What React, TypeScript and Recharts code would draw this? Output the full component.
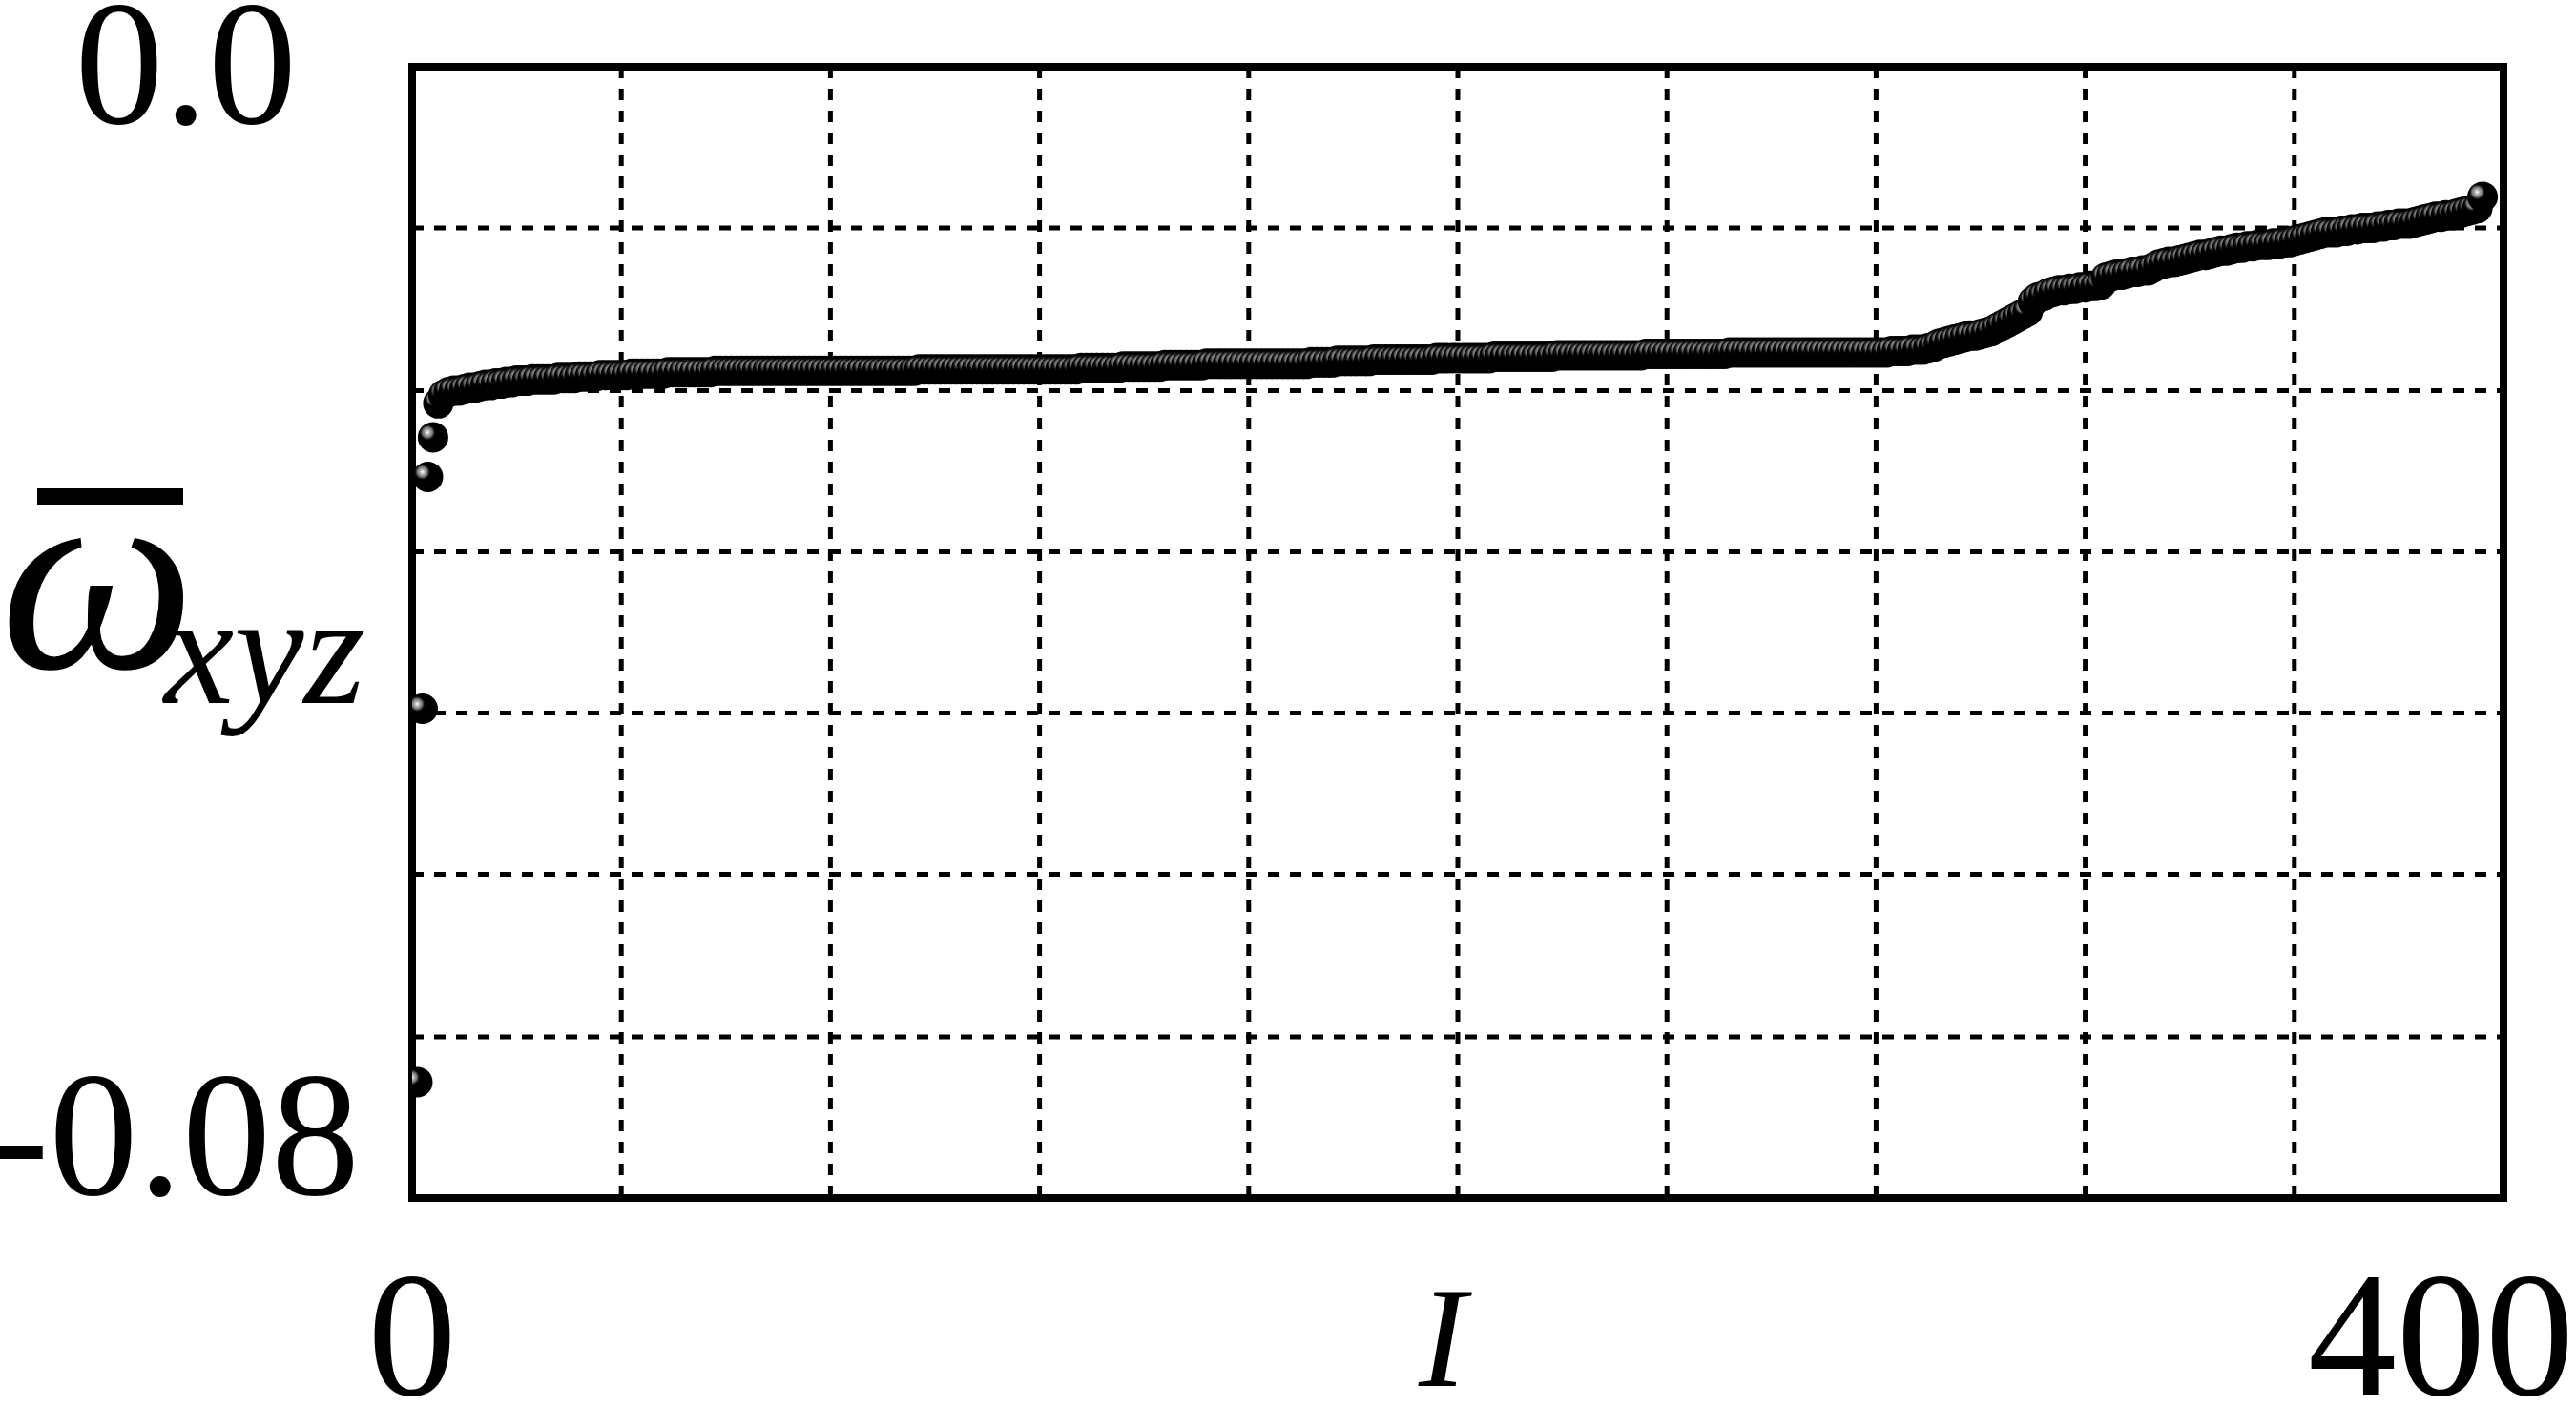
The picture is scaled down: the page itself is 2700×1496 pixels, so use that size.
import React from "react";
import {
  ScatterChart,
  Scatter,
  XAxis,
  YAxis,
  CartesianGrid,
  ReferenceArea,
} from "recharts";

// sorted values, index starts at 1
const FIRST_INDEX = 1;
const OMEGA = [
  -0.0718, -0.0454, -0.029, -0.0262, -0.0238, -0.0232, -0.023, -0.0229, -0.0229, -0.0228,
  -0.0227, -0.0227, -0.0226, -0.0225, -0.0225, -0.0224, -0.0224, -0.0223, -0.0223, -0.0222,
  -0.0222, -0.0222, -0.0221, -0.0221, -0.0221, -0.0221, -0.0221, -0.022, -0.022, -0.022,
  -0.022, -0.0219, -0.0219, -0.0219, -0.0219, -0.0218, -0.0218, -0.0218, -0.0218, -0.0218,
  -0.0218, -0.0217, -0.0217, -0.0217, -0.0217, -0.0217, -0.0217, -0.0217, -0.0216, -0.0216,
  -0.0216, -0.0216, -0.0216, -0.0216, -0.0216, -0.0216, -0.0216, -0.0215, -0.0215, -0.0215,
  -0.0215, -0.0215, -0.0215, -0.0215, -0.0215, -0.0215, -0.0215, -0.0215, -0.0215, -0.0215,
  -0.0215, -0.0215, -0.0215, -0.0215, -0.0215, -0.0215, -0.0215, -0.0215, -0.0215, -0.0215,
  -0.0215, -0.0215, -0.0215, -0.0215, -0.0215, -0.0215, -0.0215, -0.0215, -0.0215, -0.0215,
  -0.0215, -0.0215, -0.0215, -0.0215, -0.0215, -0.0215, -0.0214, -0.0214, -0.0214, -0.0214,
  -0.0214, -0.0214, -0.0214, -0.0214, -0.0214, -0.0214, -0.0214, -0.0214, -0.0214, -0.0214,
  -0.0214, -0.0214, -0.0214, -0.0214, -0.0214, -0.0214, -0.0214, -0.0214, -0.0214, -0.0214,
  -0.0214, -0.0214, -0.0214, -0.0214, -0.0214, -0.0214, -0.0214, -0.0213, -0.0213, -0.0213,
  -0.0213, -0.0213, -0.0213, -0.0213, -0.0213, -0.0212, -0.0212, -0.0212, -0.0212, -0.0212,
  -0.0212, -0.0212, -0.0212, -0.0211, -0.0211, -0.0211, -0.0211, -0.0211, -0.0211, -0.0211,
  -0.0211, -0.021, -0.021, -0.021, -0.021, -0.021, -0.021, -0.021, -0.021, -0.021,
  -0.021, -0.021, -0.021, -0.021, -0.021, -0.021, -0.021, -0.021, -0.021, -0.021,
  -0.021, -0.0209, -0.0209, -0.0209, -0.0209, -0.0209, -0.0208, -0.0208, -0.0208, -0.0208,
  -0.0208, -0.0208, -0.0208, -0.0207, -0.0207, -0.0207, -0.0207, -0.0207, -0.0207, -0.0207,
  -0.0207, -0.0207, -0.0207, -0.0207, -0.0207, -0.0206, -0.0206, -0.0206, -0.0206, -0.0206,
  -0.0206, -0.0206, -0.0206, -0.0206, -0.0206, -0.0206, -0.0205, -0.0205, -0.0205, -0.0205,
  -0.0205, -0.0205, -0.0205, -0.0205, -0.0205, -0.0205, -0.0205, -0.0205, -0.0204, -0.0204,
  -0.0204, -0.0204, -0.0204, -0.0204, -0.0204, -0.0204, -0.0204, -0.0204, -0.0204, -0.0204,
  -0.0204, -0.0204, -0.0204, -0.0204, -0.0204, -0.0203, -0.0203, -0.0203, -0.0203, -0.0203,
  -0.0203, -0.0203, -0.0203, -0.0203, -0.0203, -0.0203, -0.0203, -0.0203, -0.0203, -0.0203,
  -0.0203, -0.0202, -0.0202, -0.0202, -0.0202, -0.0202, -0.0202, -0.0202, -0.0202, -0.0202,
  -0.0202, -0.0202, -0.0202, -0.0202, -0.0202, -0.0202, -0.0202, -0.0202, -0.0202, -0.0202,
  -0.0202, -0.0202, -0.0202, -0.0202, -0.0202, -0.0202, -0.0202, -0.0202, -0.0202, -0.0202,
  -0.0202, -0.0202, -0.0201, -0.0201, -0.0201, -0.0201, -0.02, -0.02, -0.02, -0.0199,
  -0.0198, -0.0196, -0.0195, -0.0194, -0.0193, -0.0192, -0.0191, -0.019, -0.019, -0.0189,
  -0.0188, -0.0187, -0.0185, -0.0183, -0.0181, -0.0179, -0.0177, -0.0175, -0.0173, -0.0166,
  -0.0163, -0.0162, -0.016, -0.0159, -0.0158, -0.0158, -0.0157, -0.0157, -0.0156, -0.0156,
  -0.0155, -0.0155, -0.0154, -0.0149, -0.0148, -0.0147, -0.0147, -0.0146, -0.0145, -0.0145,
  -0.0144, -0.0144, -0.0142, -0.014, -0.0139, -0.0138, -0.0138, -0.0137, -0.0136, -0.0135,
  -0.0134, -0.0133, -0.0133, -0.0132, -0.0131, -0.013, -0.013, -0.0129, -0.0128, -0.0128,
  -0.0127, -0.0127, -0.0126, -0.0126, -0.0126, -0.0125, -0.0125, -0.0124, -0.0124, -0.0123,
  -0.0122, -0.0121, -0.012, -0.0119, -0.0118, -0.0117, -0.0117, -0.0117, -0.0116, -0.0116,
  -0.0115, -0.0115, -0.0114, -0.0114, -0.0114, -0.0113, -0.0113, -0.0112, -0.0112, -0.0111,
  -0.0111, -0.0111, -0.011, -0.0109, -0.0108, -0.0107, -0.0106, -0.0106, -0.0105, -0.0105,
  -0.0104, -0.0103, -0.0102, -0.0101, -0.01, -0.0092,
];

const X_TICKS = [0, 400];
const X_TICK_LABELS = ["0", "400"];
const Y_TICKS = [-0.08, 0];
const Y_TICK_LABELS = ["-0.08", "0.0"];
const X_GRID = [0, 40, 80, 120, 160, 200, 240, 280, 320, 360, 400];
const Y_GRID = [-0.08, -0.0686, -0.0571, -0.0457, -0.0343, -0.0229, -0.0114, 0];

const points = OMEGA.map((v, i) => ({ i: i + FIRST_INDEX, v }));

const SERIF = '"Liberation Serif", "Times New Roman", serif';

function XTick({ x, y, payload }: any) {
  const k = X_TICKS.indexOf(payload.value);
  const last = k === X_TICKS.length - 1;
  return (
    <text
      x={last ? x + 74 : x}
      y={y + 206}
      textAnchor={last ? "end" : "middle"}
      fontFamily={SERIF}
      fontSize={186}
      fill="#000"
    >
      {X_TICK_LABELS[k]}
    </text>
  );
}

function YTick({ x, y, payload }: any) {
  const k = Y_TICKS.indexOf(payload.value);
  const top = payload.value === 0;
  return (
    <text
      x={top ? x - 121 : x - 55}
      y={top ? y + 59 : y - 4}
      textAnchor="end"
      fontFamily={SERIF}
      fontSize={186}
      fill="#000"
    >
      {Y_TICK_LABELS[k]}
    </text>
  );
}

function XLabel() {
  return (
    <text x={1512} y={1453} textAnchor="middle" fontFamily={SERIF} fontStyle="italic" fontSize={150} fill="#000">
      I
    </text>
  );
}

// omega with overbar and xyz subscript
function YLabel() {
  return (
    <g fontFamily={SERIF} fill="#000">
      <rect x={39} y={512} width={153} height={17} />
      <text x={0} y={700} fontStyle="italic" fontSize={290}>
        ω
      </text>
      <text x={172} y={737} fontStyle="italic" fontSize={165}>
        xyz
      </text>
    </g>
  );
}

function Ball(props: any) {
  const { cx, cy } = props;
  if (cx == null || cy == null) return null;
  return <circle cx={cx} cy={cy} r={16} fill="url(#ballGrad)" />;
}

export default function App() {
  return (
    <div style={{ width: 2700, height: 1496, background: "#fff" }}>
      <style>{"body{margin:0}"}</style>
      <ScatterChart width={2700} height={1496} margin={{ top: 70, right: 76, bottom: 0, left: 0 }}>
        <defs>
          <radialGradient id="ballGrad" cx="32%" cy="34%" r="50%">
            <stop offset="0%" stopColor="#ffffff" />
            <stop offset="10%" stopColor="#cfcfcf" />
            <stop offset="22%" stopColor="#9a9a9a" />
            <stop offset="34%" stopColor="#6e6e6e" />
            <stop offset="44%" stopColor="#1a1a1a" />
            <stop offset="52%" stopColor="#000000" />
            <stop offset="100%" stopColor="#000000" />
          </radialGradient>
        </defs>
        <CartesianGrid
          verticalValues={X_GRID}
          horizontalValues={Y_GRID}
          stroke="#000"
          strokeWidth={5}
          strokeDasharray="12 11"
        />
        <XAxis
          type="number"
          dataKey="i"
          domain={[0, 400]}
          ticks={X_TICKS}
          interval={0}
          height={240}
          axisLine={false}
          tickLine={false}
          tickSize={0}
          tickMargin={0}
          tick={<XTick />}
          label={<XLabel />}
          allowDataOverflow
        />
        <YAxis
          type="number"
          dataKey="v"
          domain={[-0.08, 0]}
          ticks={Y_TICKS}
          interval={0}
          width={432}
          axisLine={false}
          tickLine={false}
          tickSize={0}
          tickMargin={0}
          tick={<YTick />}
          label={<YLabel />}
          allowDataOverflow
        />
        <Scatter data={points} shape={<Ball />} isAnimationActive={false} />
        <ReferenceArea
          x1={0}
          x2={400}
          y1={-0.08}
          y2={0}
          fill="none"
          fillOpacity={0}
          stroke="#000"
          strokeWidth={8}
          ifOverflow="visible"
        />
      </ScatterChart>
    </div>
  );
}
